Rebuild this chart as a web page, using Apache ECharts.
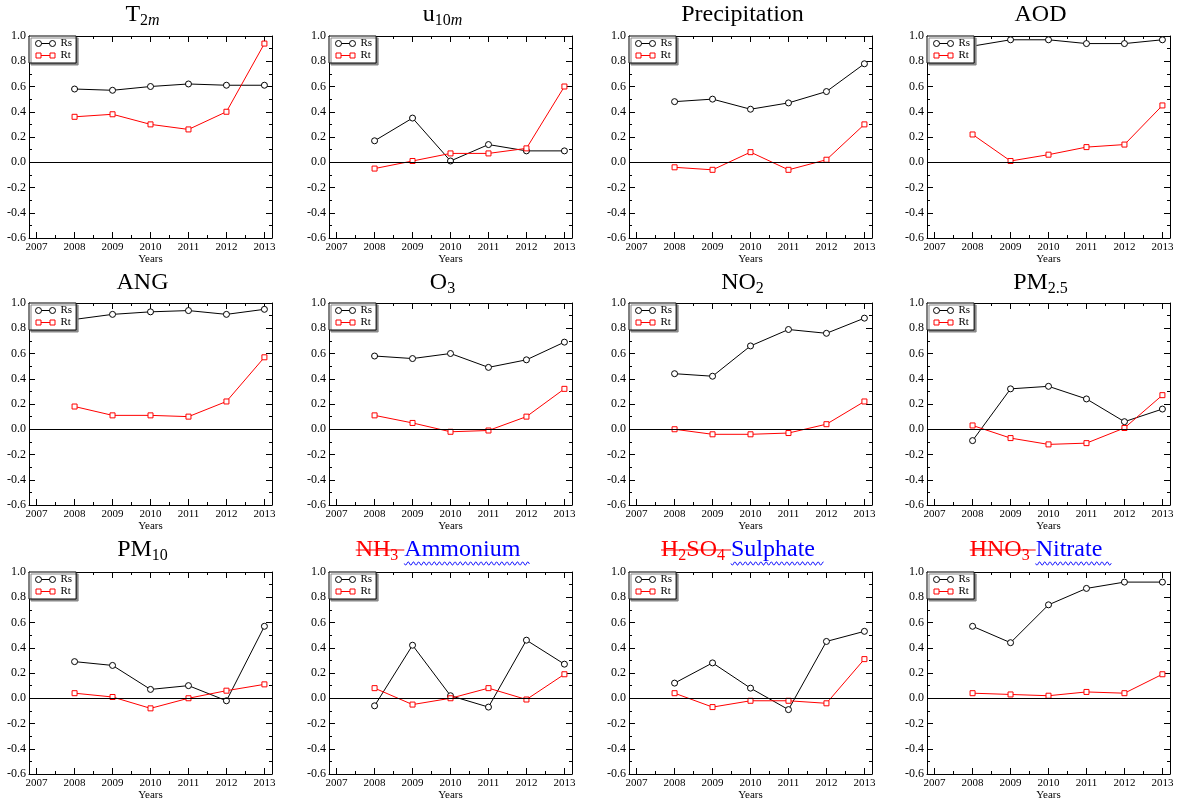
<!DOCTYPE html>
<html><head><meta charset="utf-8">
<script src="https://cdn.jsdelivr.net/npm/echarts@6/dist/echarts.min.js"></script>
<style>html,body{margin:0;padding:0;background:#fff}#c{width:1178px;height:803px}</style>
</head><body><div id="c"></div>
<script>
// ---------------- DATA ----------------
const years = [2008, 2009, 2010, 2011, 2012, 2013];
const xTickLabels = [2007, 2008, 2009, 2010, 2011, 2012, 2013];
const xMinorTicks = [2007.5, 2008.5, 2009.5, 2010.5, 2011.5, 2012.5];
const seriesNames = ['Rs', 'Rt'];

const rsT2m   = [0.58, 0.57, 0.60, 0.62, 0.61, 0.61];
const rtT2m   = [0.36, 0.38, 0.30, 0.26, 0.40, 0.94];
const rsU10m  = [0.17, 0.35, 0.01, 0.14, 0.09, 0.09];
const rtU10m  = [-0.05, 0.01, 0.07, 0.07, 0.11, 0.60];
const rsPrec  = [0.48, 0.50, 0.42, 0.47, 0.56, 0.78];
const rtPrec  = [-0.04, -0.06, 0.08, -0.06, 0.02, 0.30];
const rsAOD   = [0.92, 0.97, 0.97, 0.94, 0.94, 0.97];
const rtAOD   = [0.22, 0.01, 0.06, 0.12, 0.14, 0.45];
const rsANG   = [0.87, 0.91, 0.93, 0.94, 0.91, 0.95];
const rtANG   = [0.18, 0.11, 0.11, 0.10, 0.22, 0.57];
const rsO3    = [0.58, 0.56, 0.60, 0.49, 0.55, 0.69];
const rtO3    = [0.11, 0.05, -0.02, -0.01, 0.10, 0.32];
const rsNO2   = [0.44, 0.42, 0.66, 0.79, 0.76, 0.88];
const rtNO2   = [0.00, -0.04, -0.04, -0.03, 0.04, 0.22];
const rsPM25  = [-0.09, 0.32, 0.34, 0.24, 0.06, 0.16];
const rtPM25  = [0.03, -0.07, -0.12, -0.11, 0.01, 0.27];
const rsPM10  = [0.29, 0.26, 0.07, 0.10, -0.02, 0.57];
const rtPM10  = [0.04, 0.01, -0.08, 0.00, 0.06, 0.11];
const rsNH3   = [-0.06, 0.42, 0.02, -0.07, 0.46, 0.27];
const rtNH3   = [0.08, -0.05, 0.00, 0.08, -0.01, 0.19];
const rsH2SO4 = [0.12, 0.28, 0.08, -0.09, 0.45, 0.53];
const rtH2SO4 = [0.04, -0.07, -0.02, -0.02, -0.04, 0.31];
const rsHNO3  = [0.57, 0.44, 0.74, 0.87, 0.92, 0.92];
const rtHNO3  = [0.04, 0.03, 0.02, 0.05, 0.04, 0.19];

// title parts: [text, kind, style]  kind: n normal, s subscript, si italic subscript
// style: '' plain, 'strike' red struck, 'wave' blue wavy underline
const titleT2m   = [['T','n'], ['2','s'], ['m','si']];
const titleU10m  = [['u','n'], ['10','s'], ['m','si']];
const titlePrec  = [['Precipitation','n']];
const titleAOD   = [['AOD','n']];
const titleANG   = [['ANG','n']];
const titleO3    = [['O','n'], ['3','s']];
const titleNO2   = [['NO','n'], ['2','s']];
const titlePM25  = [['PM','n'], ['2.5','s']];
const titlePM10  = [['PM','n'], ['10','s']];
const titleNH3   = [['NH','n','strike'], ['3','s','strike'], [' ','n','strike'], ['Ammonium','n','wave']];
const titleH2SO4 = [['H','n','strike'], ['2','s','strike'], ['SO','n','strike'], ['4','s','strike'], [' ','n','strike'], ['Sulphate','n','wave']];
const titleHNO3  = [['HNO','n','strike'], ['3','s','strike'], [' ','n','strike'], ['Nitrate','n','wave']];

const panels = [
  [titleT2m, rsT2m, rtT2m], [titleU10m, rsU10m, rtU10m], [titlePrec, rsPrec, rtPrec], [titleAOD, rsAOD, rtAOD],
  [titleANG, rsANG, rtANG], [titleO3, rsO3, rtO3], [titleNO2, rsNO2, rtNO2], [titlePM25, rsPM25, rtPM25],
  [titlePM10, rsPM10, rtPM10], [titleNH3, rsNH3, rtNH3], [titleH2SO4, rsH2SO4, rtH2SO4], [titleHNO3, rsHNO3, rtHNO3]
];

// ---------------- LAYOUT ----------------
const FONT = '"Liberation Serif", "Times New Roman", serif';
const colLeft = [29, 329, 629, 927];
const rowTop = [36, 303, 572];
const titleBase = [23, 291, 558];
const GW = 243, GH = 202;

const measureCtx = document.createElement('canvas').getContext('2d');
function textWidth(t, size, italic) {
  measureCtx.font = (italic ? 'italic ' : '') + size + 'px ' + FONT;
  return measureCtx.measureText(t).width;
}

function buildTitle(parts, cx, base) {
  const MAIN = 24, SUB = 16;
  const els = [];
  const info = parts.map(p => {
    const sz = p[1] === 'n' ? MAIN : SUB;
    const it = p[1] === 'si';
    return {t: p[0], sz, it, kind: p[1], deco: p[2] || '', w: textWidth(p[0], sz, it)};
  });
  const hasWave = info.some(d => d.deco === 'wave');
  const total = info.reduce((a, d) => a + d.w, 0) + (hasWave ? 9 : 0);
  let x = cx - total / 2;
  let sStart = null, sEnd = null, wStart = null, wEnd = null;
  info.forEach(d => {
    const color = d.deco === 'strike' ? '#ff0000' : d.deco === 'wave' ? '#0000ff' : '#000';
    const yc = d.kind === 'n' ? base - 0.34 * MAIN : base + 3.5 - 0.34 * SUB;
    els.push({type: 'text', x: x, y: yc, silent: true,
      style: {text: d.t, fontSize: d.sz, fontFamily: FONT, fontStyle: d.it ? 'italic' : 'normal',
        fill: color, align: 'left', verticalAlign: 'middle'}});
    if (d.deco === 'strike') { if (sStart === null) sStart = x; sEnd = x + d.w; }
    if (d.deco === 'wave') { if (wStart === null) wStart = x; wEnd = x + d.w; }
    x += d.w;
  });
  if (sStart !== null) {
    els.push({type: 'line', silent: true, shape: {x1: sStart, y1: base - 8, x2: sEnd, y2: base - 8},
      style: {stroke: '#ff0000', lineWidth: 1.2}});
  }
  if (wStart !== null) {
    const pts = [];
    const end = wEnd + 9, yc = base + 5.5, A = 1.6, P = 5.2;
    for (let t = wStart; t <= end; t += 0.5) pts.push([t, yc + A * Math.sin(2 * Math.PI * (t - wStart) / P)]);
    els.push({type: 'polyline', silent: true, shape: {points: pts},
      style: {stroke: '#0000ff', lineWidth: 1, fill: null}});
  }
  return els;
}

const iconRs = 'path://M0,0 M20,6 M0,3 A3,3 0 1,0 6,3 A3,3 0 1,0 0,3 Z M6,3 L14,3 M14,3 A3,3 0 1,0 20,3 A3,3 0 1,0 14,3 Z';
const iconRt = 'path://M0,0 M20,6 M0.5,0.5 L5.5,0.5 L5.5,5.5 L0.5,5.5 Z M5.5,3 L14.5,3 M14.5,0.5 L19.5,0.5 L19.5,5.5 L14.5,5.5 Z';

const grids = [], xAxes = [], yAxes = [], series = [], legends = [], graphics = [];
const axisLineStyle = {color: '#000', width: 1};

panels.forEach((pn, p) => {
  const col = p % 4, row = Math.floor(p / 4);
  const left = colLeft[col], top = rowTop[row];
  grids[p] = {left: left, top: top, width: GW, height: GH, containLabel: false};
  grids[12 + p] = {left: left, top: top, width: GW, height: GH, containLabel: false};

  xAxes[2 * p] = {type: 'value', gridIndex: p, position: 'bottom', min: 2006.8, max: 2013.2,
    axisLine: {show: true, onZero: false, lineStyle: axisLineStyle},
    axisTick: {show: true, inside: true, length: 6, customValues: xTickLabels, lineStyle: axisLineStyle},
    axisLabel: {show: true, customValues: xTickLabels, margin: 4, color: '#000', fontSize: 11, fontFamily: FONT, formatter: v => String(v)},
    splitLine: {show: false},
    name: 'Years', nameLocation: 'middle', nameGap: 15,
    nameTextStyle: {color: '#000', fontSize: 11, fontFamily: FONT}};
  xAxes[2 * p + 1] = {type: 'value', gridIndex: p, position: 'top', min: 2006.8, max: 2013.2,
    axisLine: {show: true, onZero: false, lineStyle: axisLineStyle},
    axisTick: {show: true, inside: true, length: 6, customValues: xTickLabels, lineStyle: axisLineStyle},
    axisLabel: {show: false}, splitLine: {show: false}};
  xAxes[24 + 2 * p] = {type: 'value', gridIndex: 12 + p, position: 'bottom', min: 2006.8, max: 2013.2,
    axisLine: {show: false, onZero: false},
    axisTick: {show: true, inside: true, length: 3, customValues: xMinorTicks, lineStyle: axisLineStyle},
    axisLabel: {show: false}, splitLine: {show: false}};
  xAxes[24 + 2 * p + 1] = {type: 'value', gridIndex: 12 + p, position: 'top', min: 2006.8, max: 2013.2,
    axisLine: {show: false, onZero: false},
    axisTick: {show: true, inside: true, length: 3, customValues: xMinorTicks, lineStyle: axisLineStyle},
    axisLabel: {show: false}, splitLine: {show: false}};

  const yBase = {type: 'value', gridIndex: p, min: -0.6, max: 1.0, interval: 0.2,
    axisLine: {show: true, onZero: false, lineStyle: axisLineStyle},
    axisTick: {show: true, inside: true, length: 6, lineStyle: axisLineStyle},
    minorTick: {show: true, splitNumber: 2, length: 3, lineStyle: {color: '#000', width: 1}},
    splitLine: {show: false}, minorSplitLine: {show: false}};
  yAxes[2 * p] = Object.assign({}, yBase, {position: 'left',
    axisLabel: {show: true, margin: 3, color: '#000', fontSize: 12, fontFamily: FONT, formatter: v => v.toFixed(1)}});
  yAxes[2 * p + 1] = Object.assign({}, yBase, {position: 'right', axisLabel: {show: false}});
  yAxes[24 + p] = {type: 'value', gridIndex: 12 + p, min: -0.6, max: 1.0, show: false};

  const [titleParts, rs, rt] = pn;
  series.push({
    name: 'Rs', type: 'line', xAxisIndex: 2 * p, yAxisIndex: 2 * p,
    data: years.map((yr, k) => [yr, rs[k]]),
    symbol: 'circle', symbolSize: 6,
    lineStyle: {color: '#000', width: 1},
    itemStyle: {color: '#fff', borderColor: '#000', borderWidth: 1},
    z: 3,
    markLine: {silent: true, symbol: 'none', label: {show: false},
      lineStyle: {color: '#000', width: 1, type: 'solid'}, data: [{yAxis: 0}]}
  });
  series.push({
    name: 'Rt', type: 'line', xAxisIndex: 2 * p, yAxisIndex: 2 * p,
    data: years.map((yr, k) => [yr, rt[k]]),
    symbol: 'rect', symbolSize: 5,
    lineStyle: {color: '#ff0000', width: 1},
    itemStyle: {color: '#fff', borderColor: '#ff0000', borderWidth: 1},
    z: 3
  });

  legends.push({
    left: left, top: top, orient: 'vertical', padding: [2, 4, 2, 4], itemGap: 1,
    itemWidth: 20, itemHeight: 6, backgroundColor: '#fff', borderColor: '#000', borderWidth: 1,
    shadowColor: '#888', shadowBlur: 0, shadowOffsetX: 2, shadowOffsetY: 2,
    selectedMode: false, z: 10,
    textStyle: {color: '#000', fontSize: 11, fontFamily: FONT, lineHeight: 11},
    data: [
      {name: seriesNames[0], icon: iconRs, itemStyle: {color: 'none', borderColor: '#000', borderWidth: 1}},
      {name: seriesNames[1], icon: iconRt, itemStyle: {color: 'none', borderColor: '#ff0000', borderWidth: 1}}
    ]
  });

  buildTitle(titleParts, left + GW / 2 - 8, titleBase[row]).forEach(e => graphics.push(e));
});

const chart = echarts.init(document.getElementById('c'), null, {renderer: 'canvas'});
chart.setOption({
  animation: false,
  backgroundColor: '#fff',
  grid: grids, xAxis: xAxes, yAxis: yAxes, series: series, legend: legends,
  graphic: {elements: graphics}
});
</script></body></html>
